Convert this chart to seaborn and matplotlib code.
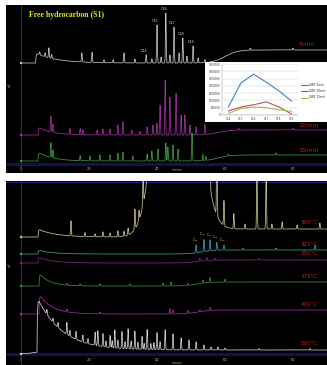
import numpy as np
import pandas as pd
import matplotlib
matplotlib.use("Agg")
import matplotlib.pyplot as plt
import seaborn as sns

sns.set_theme(style="white")
plt.rcParams["font.family"] = ["DejaVu Sans"]

# ---------------- data ----------------
TICKS = [0, 20, 40, 60, 80]

# top panel: free hydrocarbon (S1) chromatograms
TOP_LABELS = ["5min", "10min", "15min"]
TOP_COLORS = ["#c4c4c4", "#a0309f", "#3e9a3e"]
TOP_START = [110, 38, 12]
TOP_END = [123, 43, 18]
TOP_RISE = [60.0, 58.0, 58.0]
TOP_HUMP_A = [10, 8, 9]
TOP_HUMP_T0 = [4.3, 5.0, 5.0]
TOP_HUMP_TAU = [6.0, 4.0, 4.0]

P5_T = [5.5, 7.1, 8.2, 9.0, 17.9, 20.9, 24.4, 27.1, 30.3, 33.5, 36.8, 38.5, 40.0, 41.2,
        42.6, 43.8, 45.0, 46.5, 47.6, 48.8, 50.6, 52.1, 54.1, 67.4, 80.0]
P5_H = [3, 4, 10, 4, 9, 10, 3, 3, 10, 4, 8, 4, 38, 6,
        50, 8, 36, 10, 25, 7, 17, 5, 3, 2, 2]
C_LABELS = ["C14", "C15", "C16", "C17", "C18", "C19"]
C_TIMES = [36.8, 40.0, 42.6, 45.0, 47.6, 50.6]

P10_T = [8.8, 9.4, 14.4, 17.4, 18.2, 22.4, 24.1, 26.2, 28.5, 30.0, 32.6, 35.0, 37.1, 38.8,
         40.0, 40.9, 42.4, 43.8, 45.6, 47.1, 48.2, 49.7, 51.5, 54.1, 64.0, 80.0]
P10_H = [16, 8, 6, 6, 5, 5, 6, 6, 10, 13, 5, 4, 8, 10,
         12, 30, 55, 38, 42, 20, 20, 10, 8, 10, 2, 2]

P15_T = [8.8, 9.4, 17.4, 20.3, 23.2, 26.2, 28.5, 30.0, 32.9, 37.1, 38.5, 40.3, 42.6,
         43.2, 44.7, 46.2, 50.3, 53.5, 54.4, 61.0, 75.0]
P15_H = [15, 8, 5, 5, 6, 6, 8, 9, 5, 7, 10, 12, 18,
         14, 16, 12, 28, 6, 4, 2, 2]

# inset: n-alkane abundance
INSET_CARBON = ["C14", "C15", "C16", "C17", "C18", "C19"]
INSET_SERIES = ["GWC 5min", "GWC 10min", "GWC 15min"]
INSET_COLORS = ["#4a7ebb", "#c0504d", "#9bbb59"]
INSET_5 = [550000, 2200000, 2800000, 2250000, 1650000, 950000]
INSET_10 = [270000, 550000, 700000, 900000, 550000, 60000]
INSET_15 = [100000, 450000, 550000, 500000, 350000, 250000]
INSET_YTICKS = [0, 500000, 1000000, 1500000, 2000000, 2500000, 3000000, 3500000]

# bottom panel: thermal desorption / pyrolysis steps
BOT_LABELS = ["300°C", "325°C", "350°C", "375°C", "400°C", "500°C"]
BOT_COLORS = ["#c9c48f", "#3a9e9e", "#7e2a80", "#3e8f3e", "#a0309f", "#cfcfcf"]
BOT_START = [128, 111, 102, 79, 51, 11]
BOT_END = [136, 115, 105, 83, 55, 15]
BOT_RISE = [50.0, 53.0, 52.0, 52.0, 52.0, 5.0]
BOT_HUMP_A = [8, 4, 6, 13, 20, 55]
BOT_HUMP_T0 = [5.0, 5.0, 5.0, 5.3, 5.3, 4.7]
BOT_HUMP_TAU = [5.0, 4.0, 4.0, 3.0, 3.7, 7.0]

UCM_T, UCM_SIGMA, UCM_H = 46.0, 4.4, 450.0  # unresolved hump of the 300°C trace

P300_T = [14.7, 18.8, 21.8, 24.1, 26.2, 28.5, 30.3, 31.5, 33.5, 34.7, 35.9, 37.1,
          54.4, 55.6, 57.6, 59.7, 62.6, 65.9, 69.4, 72.1, 73.8, 76.8, 81.2, 87.9]
P300_H = [15, 4, 3, 5, 4, 6, 5, 7, 20, 10, 30, 40,
          60, 30, 70, 25, 15, 5, 60, 60, 5, 7, 4, 6]

P325_T = [51.5, 53.8, 55.6, 57.6, 59.7, 65.3, 75.0, 86.5]
P325_H = [8, 12, 11, 8, 5, 2, 2, 5]
CB_LABELS = ["C$_{25}$", "C$_{26}$", "C$_{27}$", "C$_{28}$", "C$_{29}$"]
CB_TIMES = [51.5, 53.8, 55.6, 57.6, 59.7]

P350_T = [52.6, 54.7, 57.0, 70.0]
P350_H = [3, 3, 2, 1.5]

P375_T = [13.5, 17.4, 23.2, 32.0, 41.8, 44.1, 49.1, 53.5, 55.6, 60.0]
P375_H = [2, 2, 2, 2, 3, 4, 2, 3, 5, 3]

P400_T = [13.5, 23.2, 43.8, 44.7, 49.1, 52.6, 55.6]
P400_H = [3, 2, 5, 4, 3, 2, 3]

P500_T = [7.6, 9.4, 10.9, 13.5, 14.4, 16.2, 18.2, 19.7, 21.8, 22.6, 24.1, 25.0, 26.2, 26.8,
          27.6, 28.5, 29.7, 30.6, 31.5, 32.4, 33.5, 34.4, 35.6, 36.2, 37.1, 38.2, 39.1, 40.0,
          40.9, 42.4, 44.7, 47.1, 49.4, 51.5, 53.8, 55.9, 57.9, 60.0, 70.0, 85.0]
P500_H = [5, 4, 5, 12, 6, 8, 7, 5, 13, 15, 13, 6, 12, 7,
          18, 8, 17, 7, 20, 8, 18, 7, 13, 6, 20, 6, 7, 17,
          8, 20, 16, 12, 10, 8, 5, 3, 3, 2, 1.5, 1.5]

# ---------------- signal construction ----------------
t = np.arange(0.0, 90.0, 0.02)


def trace(start, end, rise_c, hA, ht0, htau, pk_t, pk_h, sig=0.11):
    y = start + (end - start) / (1 + np.exp(-(t - rise_c) / 1.8))
    dt = np.clip(t - ht0, 0, None)
    y = y + np.where(t > ht0, hA * (1 - np.exp(-dt / 0.12)) * np.exp(-dt / htau), 0)
    for pt, ph in zip(pk_t, pk_h):
        y = y + ph * np.exp(-0.5 * ((t - pt) / sig) ** 2)
    return y


top_peaks = [(P5_T, P5_H), (P10_T, P10_H), (P15_T, P15_H)]
top_sig = []
for i in range(3):
    top_sig.append(trace(TOP_START[i], TOP_END[i], TOP_RISE[i], TOP_HUMP_A[i], TOP_HUMP_T0[i],
                         TOP_HUMP_TAU[i], *top_peaks[i]))
top_df = pd.concat([pd.DataFrame({"minute": t, "signal": s, "sample": lab})
                    for s, lab in zip(top_sig, TOP_LABELS)], ignore_index=True)

bot_peaks = [(P300_T, P300_H), (P325_T, P325_H), (P350_T, P350_H),
             (P375_T, P375_H), (P400_T, P400_H), (P500_T, P500_H)]
bot_sig = []
for i in range(6):
    s = trace(BOT_START[i], BOT_END[i], BOT_RISE[i], BOT_HUMP_A[i], BOT_HUMP_T0[i],
              BOT_HUMP_TAU[i], *bot_peaks[i])
    if i == 0:
        s = s + UCM_H * np.exp(-0.5 * ((t - UCM_T) / UCM_SIGMA) ** 2)
    bot_sig.append(s)
bot_df = pd.concat([pd.DataFrame({"minute": t, "signal": s, "sample": lab})
                    for s, lab in zip(bot_sig, BOT_LABELS)], ignore_index=True)

# ---------------- figure ----------------
W, H = 327, 365
fig = plt.figure(figsize=(W / 100, H / 100), dpi=100, facecolor="white")


def fr(x0, y0, x1, y1):
    return [x0 / W, 1 - y1 / H, (x1 - x0) / W, (y1 - y0) / H]


def style_panel(ax, ymax, band, labelpad):
    ax.set_facecolor("black")
    ax.set_xlim(-4.41, 90.0)
    ax.set_ylim(0, ymax)
    for sp in ax.spines.values():
        sp.set_visible(False)
    ax.axhspan(band[0], band[1], color="#121250", zorder=0.5, lw=0)
    ax.axvline(0, color="#2a2aa8", lw=0.6, zorder=1)
    ax.set_xticks(TICKS)
    ax.set_xticklabels([str(v) for v in TICKS])
    ax.tick_params(axis="x", direction="in", length=0, pad=labelpad, labelsize=2.6,
                   labelcolor="#b0b0b0")
    ax.set_yticks([])
    ax.set_xlabel("")
    ax.set_ylabel("")
    ax.grid(False)


# top panel
ax1 = fig.add_axes(fr(6, 5, 327, 173))
sns.lineplot(data=top_df, x="minute", y="signal", hue="sample", hue_order=TOP_LABELS,
             palette=TOP_COLORS, estimator=None, sort=False, lw=0.55, legend=False, ax=ax1,
             zorder=3)
sns.scatterplot(x=[0, 0, 0], y=TOP_START, hue=TOP_LABELS, palette=TOP_COLORS, s=3,
                linewidth=0, legend=False, ax=ax1, zorder=4)
style_panel(ax1, 168, (7, 10), -4.3)
ax1.text(46, 0.5, "minute", fontsize=2.2, color="#a0a0a0", ha="center", va="bottom")
ax1.text(2.4, 158, "Free hydrocarbon (S1)", family=["Liberation Serif"], fontweight="bold",
         fontsize=5.6, color="#e6e600", va="center", ha="left")
for lab, ct in zip(C_LABELS, C_TIMES):
    top = top_sig[0][np.argmin(np.abs(t - ct))]
    ax1.text(ct - 0.6, top + 1.5, lab, fontsize=2.4, color="#e0e0e0", ha="center", va="bottom")
for lab, s in zip(TOP_LABELS, top_sig):
    ax1.text(81.5, s[-1] + 5, lab, fontsize=4.6, color="#e01414", ha="left", va="center")
ax1.text(-3.9, 88, "mV", fontsize=2, color="#b0b0b0", rotation=90, va="center")

# bottom panel
ax2 = fig.add_axes(fr(6, 181, 327, 365))
sns.lineplot(data=bot_df, x="minute", y="signal", hue="sample", hue_order=BOT_LABELS,
             palette=BOT_COLORS, estimator=None, sort=False, lw=0.55, legend=False, ax=ax2,
             zorder=3)
sns.scatterplot(x=[0] * 6, y=BOT_START, hue=BOT_LABELS, palette=BOT_COLORS, s=3,
                linewidth=0, legend=False, ax=ax2, zorder=4)
style_panel(ax2, 184, (9, 12), -5.2)
ax2.axhline(183, color="#2a2aa8", lw=0.6, zorder=1)
ax2.text(46, 0.3, "minute", fontsize=2.2, color="#a0a0a0", ha="center", va="bottom")
for lab, s in zip(BOT_LABELS, bot_sig):
    ax2.text(82.2, s[-1] + 6, lab, fontsize=4.0, color="#e01414", ha="left", va="center")
for lab, ct in zip(CB_LABELS, CB_TIMES):
    top = bot_sig[1][np.argmin(np.abs(t - ct))]
    ax2.text(ct - 0.3, top + 1.2, lab, fontsize=2.3, color="#e8c040", ha="center", va="bottom")
ax2.text(-3.9, 100, "mV", fontsize=2, color="#b0b0b0", rotation=90, va="center")

# inset (white box + line chart)
box = fig.add_axes(fr(205, 62, 327, 122))
box.set_facecolor("white")
box.set_xticks([])
box.set_yticks([])
for sp in box.spines.values():
    sp.set_visible(False)

inset_df = pd.DataFrame({
    "idx": list(range(6)) * 3,
    "area": INSET_5 + INSET_10 + INSET_15,
    "series": [INSET_SERIES[0]] * 6 + [INSET_SERIES[1]] * 6 + [INSET_SERIES[2]] * 6,
})
ax3 = fig.add_axes(fr(222, 64, 298, 115))
sns.lineplot(data=inset_df, x="idx", y="area", hue="series", hue_order=INSET_SERIES,
             palette=INSET_COLORS, lw=0.8, ax=ax3, legend=True)
ax3.set_facecolor("white")
ax3.set_xlim(-0.5, 5.5)
ax3.set_ylim(0, 3500000)
ax3.set_xticks(range(6))
ax3.set_xticklabels(INSET_CARBON)
ax3.set_yticks(INSET_YTICKS)
ax3.set_yticklabels([str(v) for v in INSET_YTICKS])
ax3.tick_params(labelsize=2.0, length=0, pad=1.2, colors="#404040")
ax3.yaxis.grid(True, color="#cfcfcf", lw=0.35)
ax3.xaxis.grid(False)
for k, sp in ax3.spines.items():
    sp.set_visible(k in ("left", "bottom"))
    sp.set_color("#a0a0a0")
    sp.set_linewidth(0.35)
ax3.set_xlabel("")
ax3.set_ylabel("")
ax3.legend(loc="center left", bbox_to_anchor=(300 / W, 1 - 91 / H), bbox_transform=fig.transFigure,
           fontsize=2.0, frameon=False, handlelength=2.2, labelspacing=0.9, borderpad=0,
           handletextpad=0.5)

fig.savefig("out.png", dpi=100, facecolor="white")
